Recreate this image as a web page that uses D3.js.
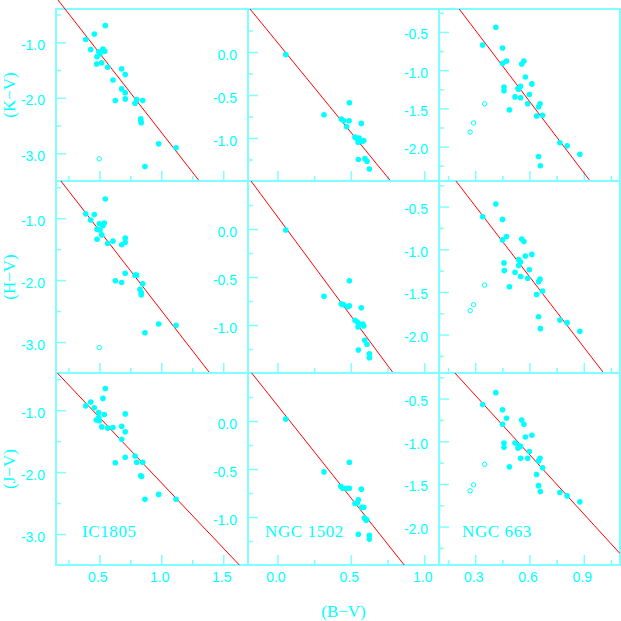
<!DOCTYPE html>
<html>
<head>
<meta charset="utf-8">
<script src="https://cdn.jsdelivr.net/npm/d3@7"></script>
<style>
  html, body { margin: 0; padding: 0; background: #fff; }
  svg { display: block; }
</style>
</head>
<body>
<script>
// cluster names (columns) and colour indices (rows)
const clusters = ["IC1805", "NGC 1502", "NGC 663"];
const colourNames = ["(K\u2212V)", "(H\u2212V)", "(J\u2212V)"];

// axis domains per column
const xDomains = [[0.15, 1.7], [-0.2, 1.1], [0.1, 1.1]];
const yDomains = [[-3.5, -0.4], [-1.5, 0.5], [-2.45, -0.2]];

// tick values per column
const xMajor = [[0.5, 1.0, 1.5], [0.0, 0.5, 1.0], [0.3, 0.6, 0.9]];
const xMinor = [[0.25, 0.75, 1.25], [0.25, 0.75], [0.15, 0.45, 0.75, 1.05]];
const yMajor = [[-1.0, -2.0, -3.0], [0.0, -0.5, -1.0], [-0.5, -1.0, -1.5, -2.0]];
const yMinor = [[-0.5, -1.5, -2.5], [0.25, -0.25, -0.75, -1.25], [-0.25, -0.75, -1.25, -1.75, -2.25]];

// IC1805  [B-V, colour]
const ic1805KV = [[0.548,-0.70],[0.459,-0.85],[0.390,-0.95],[0.430,-1.13],[0.529,-1.12],[0.543,-1.16],[0.495,-1.17],[0.505,-1.21],[0.481,-1.26],[0.478,-1.39],[0.519,-1.37],[0.567,-1.45],[0.680,-1.48],[0.709,-1.58],[0.610,-1.68],[0.680,-1.84],[0.709,-1.91],[0.709,-2.02],[0.629,-2.05],[0.801,-2.03],[0.850,-2.05],[0.788,-2.10],[0.834,-2.38],[0.838,-2.45],[0.834,-2.41],[0.979,-2.83],[1.119,-2.90],[0.868,-3.24]];
const ic1805HV = [[0.548,-0.69],[0.390,-0.93],[0.459,-0.94],[0.430,-1.03],[0.499,-1.09],[0.540,-1.08],[0.530,-1.12],[0.481,-1.18],[0.505,-1.19],[0.519,-1.27],[0.481,-1.34],[0.567,-1.41],[0.610,-1.37],[0.680,-1.43],[0.709,-1.32],[0.709,-1.39],[0.709,-1.89],[0.629,-2.01],[0.680,-2.04],[0.788,-1.92],[0.801,-1.92],[0.850,-2.06],[0.828,-2.15],[0.838,-2.20],[0.838,-2.24],[0.979,-2.71],[1.119,-2.73],[0.868,-2.85]];
const ic1805JV = [[0.548,-0.65],[0.529,-0.81],[0.430,-0.87],[0.390,-0.93],[0.459,-0.96],[0.709,-1.06],[0.540,-1.07],[0.495,-1.04],[0.475,-1.16],[0.499,-1.17],[0.495,-1.12],[0.519,-1.27],[0.567,-1.29],[0.610,-1.28],[0.680,-1.26],[0.709,-1.35],[0.680,-1.47],[0.709,-1.76],[0.788,-1.74],[0.801,-1.84],[0.850,-1.84],[0.834,-2.06],[0.841,-2.07],[0.629,-1.85],[0.979,-2.36],[1.119,-2.44],[0.868,-2.44]];
const ic1805OpenKV = [[0.499,-3.10]];
const ic1805OpenHV = [[0.499,-3.09]];

// NGC 1502
const ngc1502KV = [[0.057,-0.03],[0.317,-0.73],[0.490,-0.59],[0.435,-0.78],[0.451,-0.80],[0.488,-0.80],[0.472,-0.87],[0.571,-0.83],[0.528,-0.99],[0.544,-1.01],[0.556,-1.00],[0.549,-1.05],[0.576,-1.04],[0.588,-1.03],[0.551,-1.25],[0.596,-1.24],[0.610,-1.27],[0.626,-1.36]];
const ngc1502HV = [[0.057,-0.01],[0.317,-0.70],[0.490,-0.54],[0.435,-0.78],[0.451,-0.79],[0.479,-0.81],[0.490,-0.80],[0.571,-0.82],[0.528,-0.95],[0.544,-0.97],[0.556,-0.99],[0.549,-1.02],[0.581,-0.99],[0.588,-1.01],[0.594,-1.16],[0.610,-1.20],[0.551,-1.26],[0.626,-1.30],[0.626,-1.34]];
const ngc1502JV = [[0.057,0.02],[0.317,-0.53],[0.490,-0.43],[0.431,-0.68],[0.445,-0.70],[0.472,-0.70],[0.490,-0.70],[0.571,-0.71],[0.551,-0.82],[0.544,-0.85],[0.528,-0.86],[0.574,-0.90],[0.588,-0.90],[0.592,-1.01],[0.603,-1.03],[0.608,-1.03],[0.551,-1.18],[0.626,-1.19],[0.626,-1.23]];

// NGC 663
const ngc663KV = [[0.414,-0.44],[0.341,-0.67],[0.451,-0.71],[0.451,-0.91],[0.473,-0.88],[0.557,-0.92],[0.569,-0.88],[0.577,-1.09],[0.613,-1.18],[0.459,-1.22],[0.459,-1.27],[0.536,-1.24],[0.550,-1.21],[0.540,-1.25],[0.520,-1.35],[0.551,-1.36],[0.599,-1.32],[0.590,-1.44],[0.658,-1.44],[0.650,-1.48],[0.489,-1.52],[0.639,-1.60],[0.672,-1.59],[0.768,-1.95],[0.808,-1.99],[0.878,-2.10],[0.650,-2.13],[0.660,-2.25]];
const ngc663HV = [[0.414,-0.47],[0.341,-0.62],[0.451,-0.65],[0.451,-0.89],[0.473,-0.85],[0.557,-0.88],[0.569,-0.91],[0.577,-1.08],[0.613,-1.06],[0.540,-1.12],[0.550,-1.15],[0.459,-1.16],[0.540,-1.19],[0.599,-1.24],[0.461,-1.25],[0.520,-1.27],[0.551,-1.32],[0.590,-1.34],[0.658,-1.35],[0.650,-1.38],[0.489,-1.44],[0.672,-1.49],[0.639,-1.53],[0.768,-1.83],[0.808,-1.86],[0.878,-1.96],[0.650,-1.79],[0.660,-1.93]];
const ngc663JV = [[0.414,-0.43],[0.341,-0.57],[0.451,-0.63],[0.473,-0.73],[0.451,-0.80],[0.557,-0.75],[0.569,-0.80],[0.613,-0.93],[0.577,-0.95],[0.459,-1.02],[0.459,-1.07],[0.520,-1.02],[0.540,-1.05],[0.536,-1.08],[0.550,-1.06],[0.599,-1.12],[0.551,-1.20],[0.590,-1.20],[0.658,-1.20],[0.650,-1.23],[0.489,-1.30],[0.672,-1.31],[0.639,-1.39],[0.650,-1.52],[0.660,-1.59],[0.768,-1.60],[0.808,-1.64],[0.878,-1.71]];
const ngc663OpenKV = [[0.352,-1.44],[0.291,-1.69],[0.272,-1.81]];
const ngc663OpenHV = [[0.352,-1.42],[0.291,-1.65],[0.272,-1.72]];
const ngc663OpenJV = [[0.352,-1.27],[0.291,-1.51],[0.272,-1.58]];

// reddening lines: colour = intercept + slope * (B-V)
const lineSlopes = [[-2.86, -2.09, -3.11], [-2.58, -2.066, -2.757], [-2.11, -1.926, -2.32]];
const lineIntercepts = [[0.238, 0.111, 0.458], [0.090, 0.129, 0.334], [-0.061, 0.163, 0.236]];

const filled = [
  [ic1805KV, ngc1502KV, ngc663KV],
  [ic1805HV, ngc1502HV, ngc663HV],
  [ic1805JV, ngc1502JV, ngc663JV],
];
const hollow = [
  [ic1805OpenKV, [], ngc663OpenKV],
  [ic1805OpenHV, [], ngc663OpenHV],
  [[], [], ngc663OpenJV],
];

const W = 621, H = 621;
const colEdges = [[56, 248], [248, 439], [439, 620]];
const rowEdges = [[9, 181], [181, 373], [373, 565]];
const CYAN = "#00ffff";
const FRAME = "#7fffff";

const svg = d3.select("body").append("svg")
  .attr("width", W).attr("height", H);

const fmt = v => v.toFixed(1);

const defs = svg.append("defs");

for (let r = 0; r < 3; r++) {
  for (let c = 0; c < 3; c++) {
    const [x0, x1] = colEdges[c];
    const [y0, y1] = rowEdges[r];
    const x = d3.scaleLinear().domain(xDomains[c]).range([x0, x1]);
    const y = d3.scaleLinear().domain(yDomains[c]).range([y1, y0]);
    const g = svg.append("g");

    const clipId = `clip-${r}-${c}`;
    const clipTop = (r === 0 && c === 0) ? 0 : y0;
    defs.append("clipPath").attr("id", clipId)
      .append("rect")
      .attr("x", x0).attr("y", clipTop)
      .attr("width", x1 - x0).attr("height", y1 - clipTop);

    // frame
    g.append("rect")
      .attr("x", x0).attr("y", y0)
      .attr("width", x1 - x0).attr("height", y1 - y0)
      .attr("fill", "none").attr("stroke", FRAME).attr("stroke-width", 2);

    // y ticks (inside, left)
    const yAxisMajor = g.append("g").attr("transform", `translate(${x0},0)`)
      .call(d3.axisLeft(y).tickValues(yMajor[c]).tickSize(-10).tickPadding(11).tickFormat(fmt));
    g.append("g").attr("transform", `translate(${x0},0)`)
      .call(d3.axisLeft(y).tickValues(yMinor[c]).tickSize(-5).tickFormat(""));

    // x ticks (inside, bottom)
    const xAxisMajor = g.append("g").attr("transform", `translate(0,${y1})`)
      .call(d3.axisBottom(x).tickValues(xMajor[c]).tickSize(-10).tickPadding(7)
        .tickFormat(r === 2 ? fmt : ""));
    g.append("g").attr("transform", `translate(0,${y1})`)
      .call(d3.axisBottom(x).tickValues(xMinor[c]).tickSize(-5).tickFormat(""));

    g.selectAll(".domain").remove();
    g.selectAll(".tick line").attr("stroke", FRAME).attr("stroke-width", 1.5);
    g.selectAll(".tick text")
      .attr("fill", CYAN)
      .attr("font-family", "'Liberation Sans', Arial, sans-serif")
      .attr("font-size", 14);
    yAxisMajor.selectAll(".tick text").attr("dy", "0.5em");
    xAxisMajor.selectAll(".tick text").attr("dx", -2);

    // reddening line
    const xd = xDomains[c];
    const lineData = xd.map(v => [v, lineIntercepts[r][c] + lineSlopes[r][c] * v]);
    g.append("path")
      .attr("clip-path", `url(#${clipId})`)
      .attr("d", d3.line().x(d => x(d[0])).y(d => y(d[1]))(lineData))
      .attr("fill", "none").attr("stroke", "#ff0000").attr("stroke-width", 1);

    // points
    g.selectAll("circle.f").data(filled[r][c]).join("circle")
      .attr("class", "f")
      .attr("cx", d => x(d[0])).attr("cy", d => y(d[1]))
      .attr("r", 2.8).attr("fill", CYAN);
    g.selectAll("circle.o").data(hollow[r][c]).join("circle")
      .attr("class", "o")
      .attr("cx", d => x(d[0])).attr("cy", d => y(d[1]))
      .attr("r", 2.2).attr("fill", "none").attr("stroke", CYAN).attr("stroke-width", 1);
  }
}

// cluster labels in bottom row
const labelDx = [26, 17, 23];
clusters.forEach((name, c) => {
  svg.append("text")
    .attr("x", colEdges[c][0] + labelDx[c]).attr("y", rowEdges[2][1] - 28)
    .attr("fill", CYAN)
    .attr("font-family", "'Liberation Serif', 'Times New Roman', serif")
    .attr("font-size", 17).attr("letter-spacing", 0.6)
    .text(name);
});

// y titles
colourNames.forEach((name, r) => {
  const cy = (rowEdges[r][0] + rowEdges[r][1]) / 2;
  svg.append("text")
    .attr("transform", `translate(15,${cy}) rotate(-90)`)
    .attr("text-anchor", "middle")
    .attr("fill", CYAN)
    .attr("font-family", "'Liberation Serif', 'Times New Roman', serif")
    .attr("font-size", 17)
    .text(name);
});

// x title
svg.append("text")
  .attr("x", (colEdges[1][0] + colEdges[1][1]) / 2).attr("y", 617)
  .attr("text-anchor", "middle")
  .attr("fill", CYAN)
  .attr("font-family", "'Liberation Serif', 'Times New Roman', serif")
  .attr("font-size", 17)
  .text("(B\u2212V)");
</script>
</body>
</html>
